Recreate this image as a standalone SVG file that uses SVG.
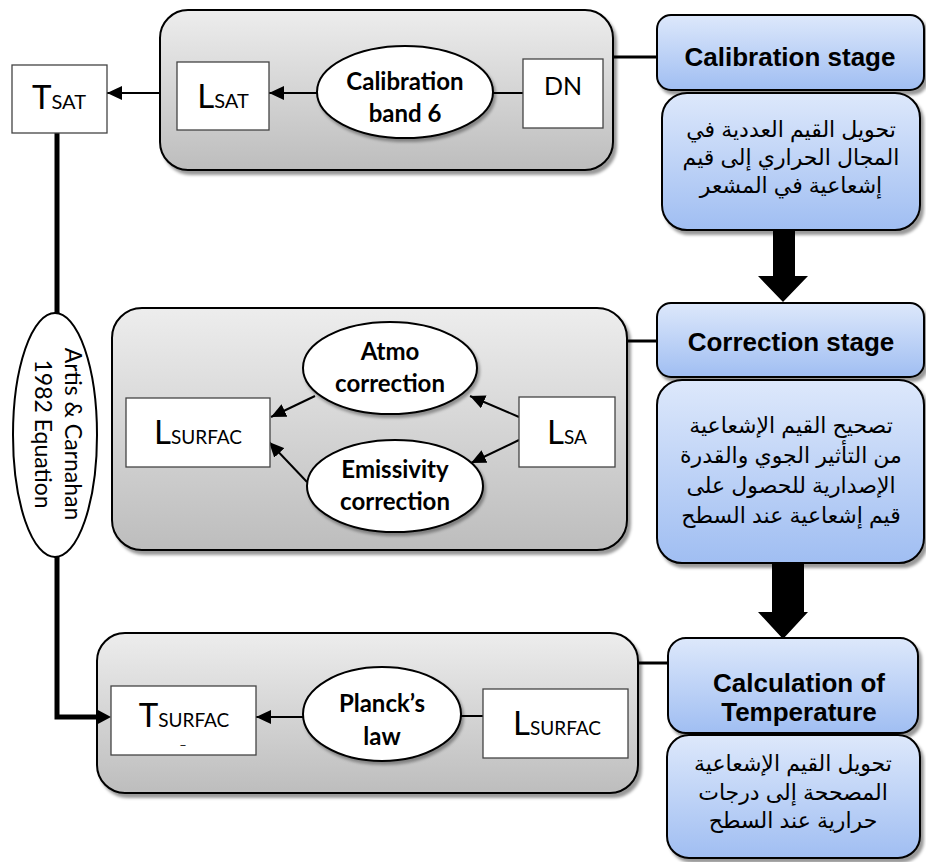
<svg xmlns="http://www.w3.org/2000/svg" width="926" height="862" viewBox="0 0 926 862">
<style>
.gray{fill:url(#gg);stroke:#000;stroke-width:2;filter:url(#sh)}
.blue{fill:url(#bg);stroke:#000;stroke-width:2;filter:url(#sh)}
.box{fill:#fff;stroke:#444;stroke-width:1.3}
.ell{fill:#fff;stroke:#000;stroke-width:2;filter:url(#sh2)}
.lbl{font-family:Lato,"Liberation Sans",sans-serif;fill:#000}
.bl{font-family:Lato,"Liberation Sans",sans-serif;font-weight:bold;font-size:24px;text-anchor:middle;fill:#000}
.st{font-family:"Liberation Sans",Arial,sans-serif;font-weight:bold;font-size:26px;text-anchor:middle;fill:#000}
.ar{font-family:"Liberation Sans","DejaVu Sans",sans-serif;font-size:22px;text-anchor:middle;fill:#000}
.ln{stroke:#000;stroke-width:2;fill:none}
.lnt{stroke:#000;stroke-width:3;fill:none}
.thick{stroke:#000;stroke-width:5;fill:none}
.arr{marker-end:url(#ah)}
</style>
<defs>
<linearGradient id="gg" x1="0" y1="0" x2="0" y2="1"><stop offset="0" stop-color="#ededed"/><stop offset="1" stop-color="#bdbdbd"/></linearGradient>
<linearGradient id="bg" x1="0" y1="0" x2="0" y2="1"><stop offset="0" stop-color="#dde8fb"/><stop offset="1" stop-color="#a0bef2"/></linearGradient>
<filter id="sh" x="-5%" y="-5%" width="112%" height="115%"><feDropShadow dx="3" dy="4" stdDeviation="1.5" flood-color="#000" flood-opacity="0.4"/></filter>
<filter id="sh2" x="-5%" y="-5%" width="115%" height="120%"><feDropShadow dx="2" dy="3" stdDeviation="1.5" flood-color="#000" flood-opacity="0.35"/></filter>
<marker id="ah" markerWidth="15" markerHeight="14" refX="15" refY="7" orient="auto" markerUnits="userSpaceOnUse"><path d="M0,0 L15,7 L0,14 Z" fill="#000"/></marker>
</defs>

<g id="stage1-panel">
<rect class="gray" x="160" y="10" width="453" height="160" rx="28"/>
</g>
<g id="stage2-panel">
<rect class="gray" x="112" y="308" width="515" height="242" rx="30"/>
</g>
<g id="stage3-panel">
<rect class="gray" x="97" y="633" width="541" height="160" rx="28"/>
</g>

<g id="connectors">
<line class="lnt" x1="613" y1="57" x2="657" y2="57"/>
<line class="lnt" x1="627" y1="341" x2="657" y2="341"/>
<line class="lnt" x1="638" y1="663" x2="668" y2="663"/>
<line class="ln arr" x1="160" y1="93" x2="107" y2="93"/>
<line class="ln arr" x1="317" y1="93" x2="269" y2="93"/>
<line class="ln" x1="523" y1="93" x2="493" y2="93"/>
<line class="ln arr" x1="519" y1="417" x2="470" y2="396"/>
<line class="ln arr" x1="519" y1="440" x2="471" y2="463"/>
<line class="ln arr" x1="315" y1="396" x2="271" y2="417"/>
<line class="ln arr" x1="307" y1="482" x2="269" y2="442"/>
<line class="ln arr" x1="303" y1="717" x2="256" y2="717"/>
<line class="ln" x1="483" y1="716" x2="461" y2="716"/>
<line class="thick" x1="57" y1="133" x2="57" y2="313"/>
<polyline class="thick" points="57,556 57,717 98,717"/>
<path d="M96,709 L111,717 L96,725 Z" fill="#000"/>
<polygon points="773,230 795,230 795,276 808,276 783,302 758,276 773,276" fill="#000"/>
<polygon points="772,563 804,563 804,612 808,612 783,639 758,612 772,612" fill="#000"/>
</g>

<g id="tsat">
<rect class="box" x="12" y="65" width="95" height="68"/>
<text class="lbl" x="59" y="109" text-anchor="middle"><tspan font-size="33">T</tspan><tspan font-size="20">SAT</tspan></text>
</g>
<g id="lsat">
<rect class="box" x="177" y="62" width="92" height="68"/>
<text class="lbl" x="223" y="108" text-anchor="middle"><tspan font-size="33">L</tspan><tspan font-size="20">SAT</tspan></text>
</g>
<g id="calib-band">
<ellipse class="ell" cx="405" cy="92" rx="88" ry="46"/>
<text class="bl" x="405" y="90">Calibration</text>
<text class="bl" x="405" y="122">band 6</text>
</g>
<g id="dn">
<rect class="box" x="523" y="59" width="80" height="69"/>
<text class="lbl" x="563" y="95" text-anchor="middle" font-size="25">DN</text>
</g>

<g id="lsurfac1">
<rect class="box" x="126" y="398" width="144" height="69"/>
<text class="lbl" x="198" y="444" text-anchor="middle"><tspan font-size="33">L</tspan><tspan font-size="19">SURFAC</tspan></text>
</g>
<g id="atmo">
<ellipse class="ell" cx="390" cy="368" rx="87" ry="46"/>
<text class="bl" x="390" y="360">Atmo</text>
<text class="bl" x="390" y="392">correction</text>
</g>
<g id="emis">
<ellipse class="ell" cx="395" cy="486" rx="88" ry="46"/>
<text class="bl" x="395" y="478">Emissivity</text>
<text class="bl" x="395" y="510">correction</text>
</g>
<g id="lsa">
<rect class="box" x="519" y="397" width="96" height="70"/>
<text class="lbl" x="567" y="444" text-anchor="middle"><tspan font-size="33">L</tspan><tspan font-size="19">SA</tspan></text>
</g>

<g id="tsurfac">
<rect class="box" x="111" y="686" width="145" height="69"/>
<text class="lbl" x="184" y="727" text-anchor="middle"><tspan font-size="33">T</tspan><tspan font-size="19">SURFAC</tspan></text>
<text class="lbl" x="183" y="744" text-anchor="middle" font-size="13">_</text>
</g>
<g id="planck">
<ellipse class="ell" cx="382" cy="714" rx="79" ry="47"/>
<text class="bl" x="382" y="712">Planck’s</text>
<text class="bl" x="382" y="745">law</text>
</g>
<g id="lsurfac2">
<rect class="box" x="483" y="689" width="145" height="69"/>
<text class="lbl" x="557" y="735" text-anchor="middle"><tspan font-size="33">L</tspan><tspan font-size="19">SURFAC</tspan></text>
</g>

<g id="artis">
<ellipse fill="#fff" stroke="#000" stroke-width="2" cx="55" cy="435" rx="42" ry="122"/>
<g transform="translate(55,434) rotate(90)">
<text class="lbl" x="0" y="-10" text-anchor="middle" font-size="23">Artis &amp; Carnahan</text>
<text class="lbl" x="0" y="20" text-anchor="middle" font-size="23">1982 Equation</text>
</g>
</g>

<g id="calibration-stage">
<rect class="blue" x="657" y="15" width="267" height="75" rx="14"/>
<text class="st" x="790" y="66">Calibration stage</text>
</g>
<g id="calibration-desc">
<rect class="blue" x="662" y="93" width="258" height="137" rx="25"/>
<text class="ar" direction="rtl" x="791" y="137">تحويل القيم العددية في</text>
<text class="ar" direction="rtl" x="791" y="165">المجال الحراري إلى قيم</text>
<text class="ar" direction="rtl" x="791" y="193">إشعاعية في المشعر</text>
</g>
<g id="correction-stage">
<rect class="blue" x="657" y="303" width="267" height="74" rx="14"/>
<text class="st" x="791" y="351">Correction stage</text>
</g>
<g id="correction-desc">
<rect class="blue" x="657" y="380" width="267" height="183" rx="25"/>
<text class="ar" direction="rtl" x="791" y="433">تصحيح القيم الإشعاعية</text>
<text class="ar" direction="rtl" x="791" y="463">من التأثير الجوي والقدرة</text>
<text class="ar" direction="rtl" x="791" y="493">الإصدارية للحصول على</text>
<text class="ar" direction="rtl" x="791" y="523">قيم إشعاعية عند السطح</text>
</g>
<g id="calc-stage">
<rect class="blue" x="668" y="638" width="250" height="95" rx="18"/>
<text class="st" x="799" y="692" font-size="24">Calculation of</text>
<text class="st" x="799" y="721" font-size="24">Temperature</text>
</g>
<g id="calc-desc">
<rect class="blue" x="667" y="735" width="253" height="123" rx="22"/>
<text class="ar" direction="rtl" x="793" y="771">تحويل القيم الإشعاعية</text>
<text class="ar" direction="rtl" x="793" y="800">المصححة إلى درجات</text>
<text class="ar" direction="rtl" x="793" y="828">حرارية عند السطح</text>
</g>
</svg>
